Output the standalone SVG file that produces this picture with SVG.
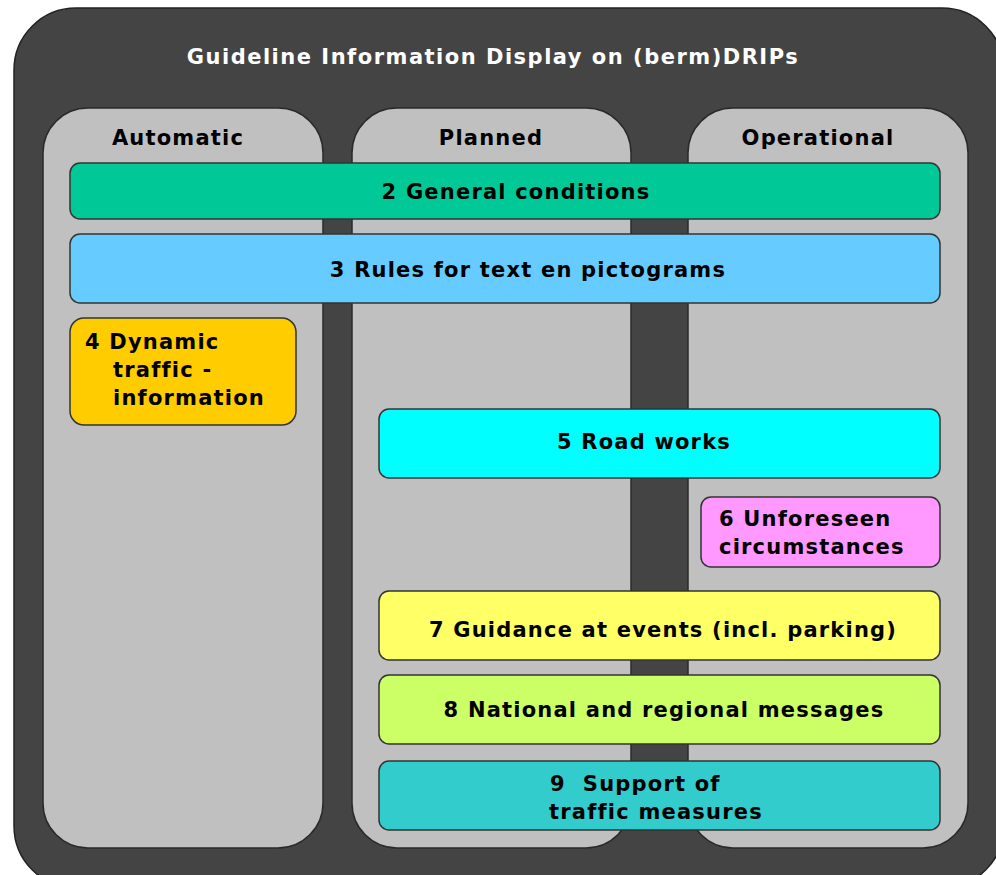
<svg xmlns="http://www.w3.org/2000/svg" width="996" height="875" viewBox="0 0 996 875">
<style>
text{font-family:"DejaVu Sans","Liberation Sans",sans-serif;font-weight:bold;font-size:21px;fill:#000;letter-spacing:1.2px}
.t{fill:#fff;font-size:21px;letter-spacing:1.5px}
.col{fill:#c0c0c0;stroke:#2a2a2a;stroke-width:1.5}
.box{stroke:#333;stroke-width:1.5}
.c{text-anchor:middle}
</style>
<rect width="996" height="875" fill="#fff"/>
<g id="frame">
<rect x="14" y="8" width="990" height="880" rx="62" fill="#444" stroke="#222" stroke-width="1.5"/>
<text class="t c" x="493" y="64">Guideline Information Display on (berm)DRIPs</text>
</g>
<g id="col-automatic"><rect class="col" x="43" y="108" width="280" height="740" rx="45"/><text class="c" x="178" y="145">Automatic</text></g>
<g id="col-planned"><rect class="col" x="352" y="108" width="279" height="740" rx="45"/><text class="c" x="491" y="145">Planned</text></g>
<g id="col-operational"><rect class="col" x="688" y="108" width="280" height="740" rx="45"/><text class="c" x="818" y="145">Operational</text></g>
<g id="connectors"></g>
<g id="n2"><rect class="box" x="70" y="163" width="870" height="56" rx="10" fill="#00c896"/><text class="c" x="516" y="199">2 General conditions</text></g>
<g id="n3"><rect class="box" x="70" y="234" width="870" height="69" rx="10" fill="#66ccff"/><text class="c" x="528" y="277">3 Rules for text en pictograms</text></g>
<g id="n4"><rect class="box" x="70" y="318" width="226" height="107" rx="14" fill="#ffcc00"/><text x="85" y="349">4 Dynamic</text><text x="113" y="377">traffic -</text><text x="113" y="405">information</text></g>
<g id="n5"><rect class="box" x="379" y="409" width="561" height="69" rx="10" fill="#00ffff"/><text class="c" x="644" y="449">5 Road works</text></g>
<g id="n6"><rect class="box" x="701" y="497" width="239" height="70" rx="10" fill="#ff99ff"/><text x="719" y="526">6 Unforeseen</text><text x="719" y="554">circumstances</text></g>
<g id="n7"><rect class="box" x="379" y="591" width="561" height="69" rx="10" fill="#ffff66"/><text class="c" x="663" y="637">7 Guidance at events (incl. parking)</text></g>
<g id="n8"><rect class="box" x="379" y="675" width="561" height="69" rx="10" fill="#ccff66"/><text class="c" x="664" y="717">8 National and regional messages</text></g>
<g id="n9"><rect class="box" x="379" y="761" width="561" height="69" rx="10" fill="#33cccc"/><text x="550" y="791" xml:space="preserve">9  Support of</text><text x="549" y="819">traffic measures</text></g>
</svg>
